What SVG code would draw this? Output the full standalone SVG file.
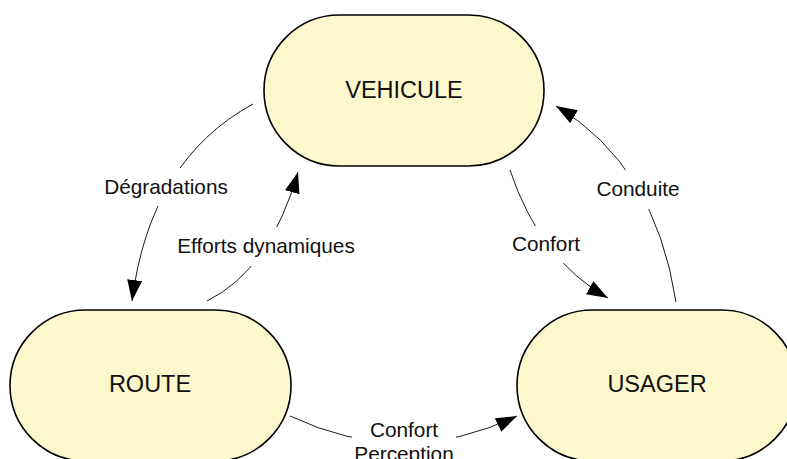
<svg xmlns="http://www.w3.org/2000/svg" width="787" height="459" viewBox="0 0 787 459">
<style>
.node rect{fill:#fdf7cd;stroke:#000;stroke-width:1.6}
.ntext{font-family:"Liberation Sans",Arial,sans-serif;font-size:23.5px;fill:#111;text-anchor:middle}
.edge{fill:none;stroke:#000;stroke-width:0.9}
.lbg{fill:#fff;stroke:none}
.ltext{font-family:"Liberation Sans",Arial,sans-serif;font-size:20.8px;fill:#111;text-anchor:middle}
</style>
<defs>
<marker id="arr" markerUnits="userSpaceOnUse" markerWidth="22" markerHeight="16" refX="21" refY="7.5" orient="auto">
<path d="M0,0 L21,7.5 L0,15 z" fill="#000"/>
</marker>
</defs>
<rect width="787" height="459" fill="#fff"/>
<g id="connectors">
<path class="edge" d="M253 104 Q150 160 132 301" marker-end="url(#arr)"/>
<path class="edge" d="M207 301 Q270 270 298 172" marker-end="url(#arr)"/>
<path class="edge" d="M510 170 Q540 260 608 298" marker-end="url(#arr)"/>
<path class="edge" d="M676 302 Q655 165 556 106" marker-end="url(#arr)"/>
<path class="edge" d="M290 416 Q404 470 517 416" marker-end="url(#arr)"/>
<rect class="lbg" x="100" y="168" width="132" height="38"/>
<rect class="lbg" x="172" y="227" width="190" height="39"/>
<rect class="lbg" x="508" y="226" width="76" height="37"/>
<rect class="lbg" x="592" y="170" width="92" height="39"/>
<rect class="lbg" x="352" y="411" width="104" height="60"/>
<text class="ltext" x="166" y="194">Dégradations</text>
<text class="ltext" x="266" y="253">Efforts dynamiques</text>
<text class="ltext" x="546" y="251">Confort</text>
<text class="ltext" x="638" y="196">Conduite</text>
<text class="ltext" x="404" y="437">Confort</text>
<text class="ltext" x="404" y="461">Perception</text>
</g>
<g id="vehicule" class="node">
<rect x="264" y="15" width="280" height="151" rx="75.5" ry="75.5"/>
<text class="ntext" x="404" y="98">VEHICULE</text>
</g>
<g id="route" class="node">
<rect x="10" y="310" width="281" height="151" rx="75.5" ry="75.5"/>
<text class="ntext" x="150" y="392">ROUTE</text>
</g>
<g id="usager" class="node">
<rect x="517" y="310" width="280" height="151" rx="75.5" ry="75.5"/>
<text class="ntext" x="657" y="392">USAGER</text>
</g>
</svg>
